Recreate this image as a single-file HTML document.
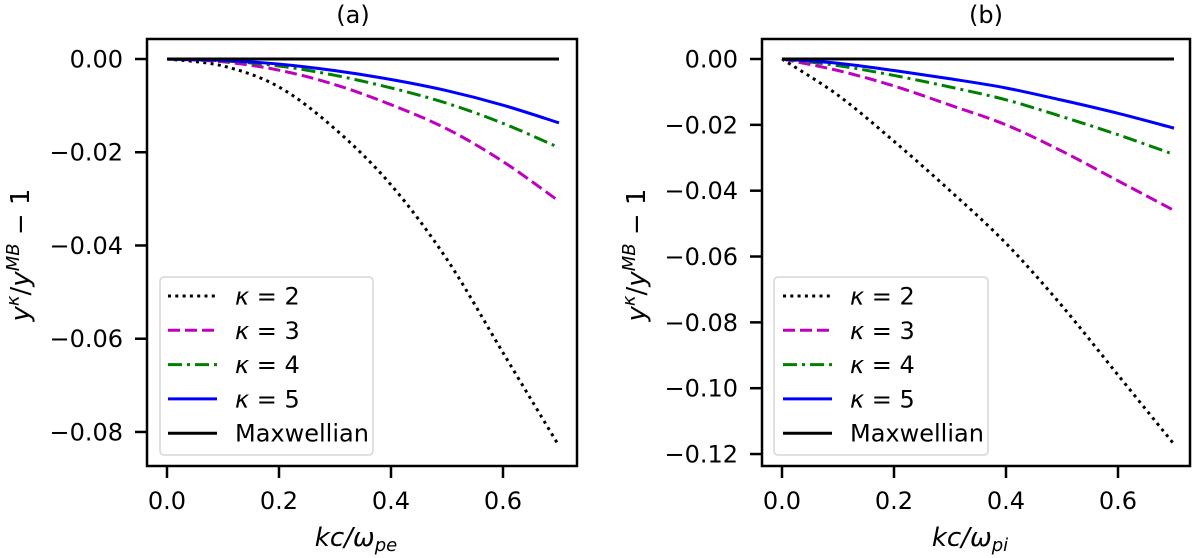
<!DOCTYPE html>
<html><head><meta charset="utf-8"><style>
body{margin:0;background:#fff;}
svg{display:block;font-family:"DejaVu Sans","Liberation Sans",sans-serif;}
</style></head><body>
<svg id="chart" width="1200" height="558" viewBox="0 0 1200 558"></svg>
<script>
const xs = [0, 0.1, 0.2, 0.3, 0.4, 0.5, 0.6, 0.7];
const seriesNames = ["κ = 2", "κ = 3", "κ = 4", "κ = 5", "Maxwellian"];
const aK2 = [0, -0.0015, -0.006, -0.015, -0.027, -0.043, -0.063, -0.083];
const aK3 = [0, -0.0006, -0.0024, -0.0055, -0.0098, -0.0150, -0.0220, -0.0305];
const aK4 = [0, -0.0004, -0.0015, -0.0035, -0.0062, -0.0095, -0.0138, -0.019];
const aK5 = [0, -0.0003, -0.0011, -0.0025, -0.0044, -0.0068, -0.0099, -0.0137];
const bK2 = [0, -0.011, -0.025, -0.040, -0.056, -0.075, -0.096, -0.117];
const bK3 = [0, -0.0035, -0.0082, -0.014, -0.020, -0.028, -0.037, -0.046];
const bK4 = [0, -0.002, -0.005, -0.0085, -0.0124, -0.0175, -0.023, -0.029];
const bK5 = [0, -0.0013, -0.0035, -0.006, -0.0088, -0.0125, -0.0165, -0.021];
const maxw = [0, 0, 0, 0, 0, 0, 0, 0];
const xTicks = [0, 0.2, 0.4, 0.6];
const aYTicks = [0, -0.02, -0.04, -0.06, -0.08];
const bYTicks = [0, -0.02, -0.04, -0.06, -0.08, -0.10, -0.12];

const NS = "http://www.w3.org/2000/svg";
const svg = document.getElementById('chart');
function mk(tag, attrs, parent){const e=document.createElementNS(NS,tag);for(const k in attrs)e.setAttribute(k,attrs[k]);(parent||svg).appendChild(e);return e;}
const styles = [
 {stroke:"#000", dash:"3,4.3", cap:"butt", w:3},
 {stroke:"#bf00bf", dash:"12,5", cap:"butt", w:3},
 {stroke:"#007f00", dash:"14,5,3,5", cap:"butt", w:3},
 {stroke:"#0000ff", dash:"", cap:"butt", w:3},
 {stroke:"#000", dash:"", cap:"butt", w:3}
];
function fmtY(v){const s=Math.abs(v).toFixed(2);return v<0?"−"+s:s;}
function smoothPath(pts){
  let d="M"+pts[0][0]+","+pts[0][1];
  for(let i=0;i<pts.length-1;i++){
    const p0=pts[Math.max(i-1,0)],p1=pts[i],p2=pts[i+1],p3=pts[Math.min(i+2,pts.length-1)];
    const c1=[p1[0]+(p2[0]-p0[0])/6,p1[1]+(p2[1]-p0[1])/6];
    const c2=[p2[0]-(p3[0]-p1[0])/6,p2[1]-(p3[1]-p1[1])/6];
    d+=" C"+c1[0]+","+c1[1]+" "+c2[0]+","+c2[1]+" "+p2[0]+","+p2[1];
  }
  return d;
}
function panel(cfg){
  const g=mk('g',{});
  
  
  const X=v=>cfg.x0+v*cfg.xs, Y=v=>cfg.y0-v*cfg.ys;
  xTicks.forEach(t=>{
    const l=mk('line',{x1:X(t),x2:X(t),y1:cfg.bottom,y2:cfg.bottom+12,stroke:"#000","stroke-width":2.5},g);
    
    
    const tx=mk('text',{x:X(t),y:cfg.bottom+43,"text-anchor":"middle","font-size":24},g);
    tx.textContent=t.toFixed(1);
    
    
  });
  cfg.yTicks.forEach(t=>{
    const l=mk('line',{x1:cfg.left-12,x2:cfg.left,y1:Y(t),y2:Y(t),stroke:"#000","stroke-width":2.5},g);
    
    
    const tx=mk('text',{x:cfg.left-24,y:Y(t)+8.5,"text-anchor":"end","font-size":24},g);
    tx.textContent=fmtY(t);
    
    
  });
  const clip=mk('clipPath',{id:cfg.name+"-clip"},g);
  mk('rect',{x:cfg.left,y:cfg.top,width:cfg.right-cfg.left,height:cfg.bottom-cfg.top},clip);
  const lines=mk('g',{"clip-path":"url(#"+cfg.name+"-clip)"},g);
  cfg.series.forEach((s,i)=>{
    const pts=xs.map((x,j)=>[X(x),Y(s[j])]);
    const st=styles[i];
    const p=mk('path',{d:smoothPath(pts),fill:"none",stroke:st.stroke,"stroke-width":st.w,"stroke-dasharray":st.dash,"stroke-linecap":st.cap},lines);
    
    
  });
  const frame=mk('rect',{x:cfg.left,y:cfg.top,width:cfg.right-cfg.left,height:cfg.bottom-cfg.top,fill:"none",stroke:"#000","stroke-width":2.5},g);
  
  
  const lg=mk('g',{},g);
  
  
  mk('rect',{x:cfg.lx,y:277,width:cfg.lw,height:178,rx:4,fill:"#fff","fill-opacity":0.8,stroke:"#d6d6d6","stroke-width":1.5},lg);
  seriesNames.forEach((n,i)=>{
    const yy=296+i*34.3, st=styles[i];
    const e=mk('g',{},lg);
    
    
    mk('line',{x1:cfg.l1,x2:cfg.l2,y1:yy,y2:yy,stroke:st.stroke,"stroke-width":st.w,"stroke-dasharray":st.dash,"stroke-linecap":st.cap},e);
    const t=mk('text',{x:cfg.lt,y:yy+8.5,"font-size":24},e);
    if(i<4){t.innerHTML='<tspan font-style="italic">κ</tspan> = '+(i+2);}else t.textContent=n;
  });
  const ti=mk('text',{x:cfg.tx,y:23,"text-anchor":"middle","font-size":24},g);
  ti.textContent=cfg.title;
  
  
  const xl=mk('text',{x:(cfg.left+cfg.right)/2-6,y:546,"text-anchor":"middle","font-size":26,"font-style":"italic"},g);
  xl.innerHTML='kc/ω<tspan font-size="18" dy="5">'+cfg.sub+'</tspan>';
  
  
  const yl=mk('text',{x:0,y:0,"text-anchor":"middle","font-size":26,transform:"translate("+cfg.ylx+",255) rotate(-90)"},g);
  yl.innerHTML='<tspan font-style="italic">y</tspan><tspan font-size="18" dy="-10" font-style="italic">κ</tspan><tspan dy="10">/</tspan><tspan font-style="italic">y</tspan><tspan font-size="18" dy="-10" font-style="italic">MB</tspan><tspan dy="10"> − 1</tspan>';
  
  
}
panel({name:"panel-a",title:"(a)",tx:353,sub:"pe",left:147,right:577,top:39,bottom:466,x0:167,xs:560,y0:59,ys:4662,yTicks:aYTicks,series:[aK2,aK3,aK4,aK5,maxw],lx:160,lw:213,l1:168,l2:217,lt:235,ylx:29});
panel({name:"panel-b",title:"(b)",tx:986,sub:"pi",left:762,right:1190,top:39,bottom:466,x0:782,xs:560,y0:59,ys:3292,yTicks:bYTicks,series:[bK2,bK3,bK4,bK5,maxw],lx:774,lw:214,l1:783,l2:832,lt:850,ylx:645});
</script>
</body></html>
